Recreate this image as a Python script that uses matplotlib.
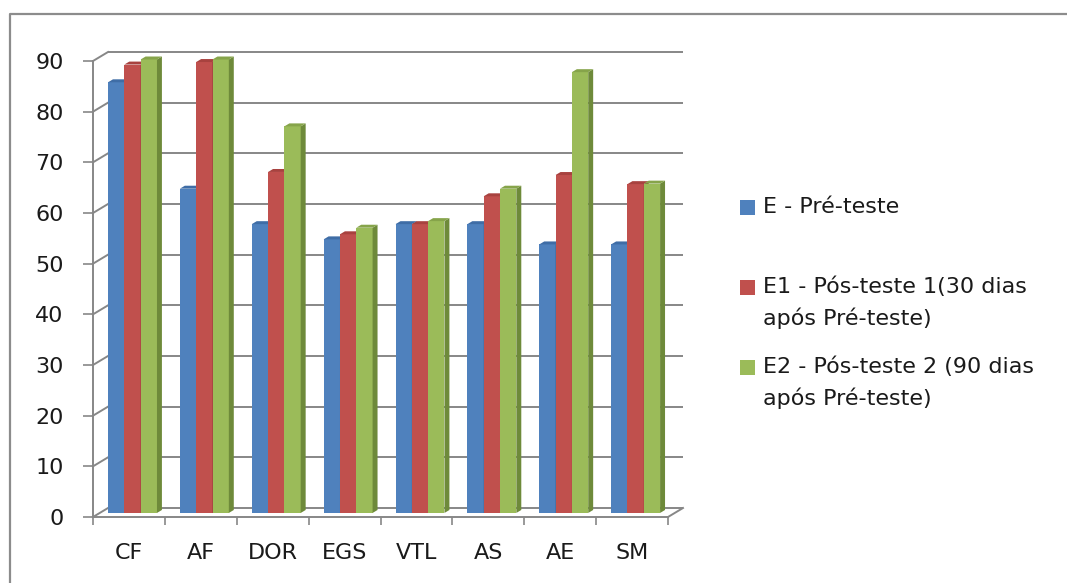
import matplotlib
matplotlib.use("Agg")
import matplotlib.pyplot as plt
from matplotlib.patches import Polygon, Rectangle
from matplotlib.lines import Line2D
import numpy as np

categories = ["CF", "AF", "DOR", "EGS", "VTL", "AS", "AE", "SM"]
e_pre = [85, 64, 57, 54, 57, 57, 53, 53]
e1_pos = [88.5, 89, 67.3, 55, 57, 62.5, 66.7, 64.9]
e2_pos = [89.5, 89.5, 76.3, 56.3, 57.6, 64, 87, 65]
series_names = ["E - Pré-teste",
                "E1 - Pós-teste 1(30 dias\napós Pré-teste)",
                "E2 - Pós-teste 2 (90 dias\napós Pré-teste)"]
yticks = list(range(0, 100, 10))

front_cols = ["#4F81BD", "#C0504D", "#9BBB59"]
side_cols = ["#3A6192", "#923B39", "#6E8A3A"]
top_cols = ["#3F6DA6", "#A8423F", "#86A44A"]

W, H = 1067, 583
FONT = "DejaVu Sans"
FS = 16
GRAY = "#878787"
TXT = "#1a1a1a"

fig = plt.figure(figsize=(W / 100, H / 100), dpi=100)
ax_l, ax_r, ax_b, ax_t = 93, 668, 517, 61
ax = fig.add_axes([ax_l / W, 1 - ax_b / H, (ax_r - ax_l) / W, (ax_b - ax_t) / H])
n = len(categories)
ax.set_xlim(0, n)
ax.set_ylim(0, 90)

# depth offset (pixels) converted to data units
px_x = (ax_r - ax_l) / n
px_y = (ax_b - ax_t) / 90
DXd = 15 / px_x
DYd = 9 / px_y

# spines / ticks
for s in ["top", "right"]:
    ax.spines[s].set_visible(False)
for s in ["left", "bottom"]:
    ax.spines[s].set_color(GRAY)
    ax.spines[s].set_linewidth(1.4)
ax.set_yticks(yticks)
ax.set_yticklabels([str(v) for v in yticks], fontsize=FS, family=FONT, color=TXT)
ax.tick_params(axis="y", length=7.2, width=1.2, color=GRAY, pad=14)
ax.set_xticks(np.arange(0, n + 1))
ax.set_xticklabels([])
ax.tick_params(axis="x", which="major", length=6, width=1.2, color=GRAY)
ax.set_xticks(np.arange(n) + 0.5, minor=True)
ax.set_xticklabels(categories, minor=True, fontsize=FS, family=FONT, color=TXT)
ax.tick_params(axis="x", which="minor", length=0, pad=19)
ax.patch.set_visible(False)

# back wall gridlines and side-wall diagonals
ax.hlines([v + DYd for v in yticks], DXd, n + DXd, color=GRAY, lw=1.4, clip_on=False, zorder=1)
for v in yticks:
    ax.plot([0, DXd], [v, v + DYd], color=GRAY, lw=1.4, clip_on=False, zorder=1)
ax.plot([n, n + DXd], [0, DYd], color=GRAY, lw=1.4, clip_on=False, zorder=1)

# bars
bw = 0.227
g0 = 0.115
d_front = 0.45
d_back = 0.78
dd = d_back - d_front
z = 3
all_series = [e_pre, e1_pos, e2_pos]
for j in range(n):
    for i, vals in enumerate(all_series):
        x0 = j + g0 + i * bw + d_front * DXd
        y0 = d_front * DYd
        h = vals[j]
        ax.bar(x0, h, width=bw, bottom=y0, align="edge", color=front_cols[i],
               linewidth=0, zorder=z, clip_on=False)
        x1 = x0 + bw
        yt = y0 + h
        side = Polygon([(x1, y0), (x1 + dd * DXd, y0 + dd * DYd),
                        (x1 + dd * DXd, yt + dd * DYd), (x1, yt)],
                       closed=True, facecolor=side_cols[i], edgecolor="none",
                       zorder=z, clip_on=False)
        ax.add_patch(side)
        top = Polygon([(x0, yt), (x1, yt), (x1 + dd * DXd, yt + dd * DYd),
                       (x0 + dd * DXd, yt + dd * DYd)],
                      closed=True, facecolor=top_cols[i], edgecolor="none",
                      zorder=z, clip_on=False)
        ax.add_patch(top)
        z += 0.01

# outer border (left and top edges; the frame continues past the image)
fig.add_artist(Line2D([10 / W, 10 / W, 1.5], [-0.5, 1 - 14 / H, 1 - 14 / H],
                      color="#8c8c8c", lw=1.6))

# legend (manual)
leg_y = [207, 287, 367]
for i, name in enumerate(series_names):
    yc = leg_y[i]
    fig.add_artist(Rectangle((740 / W, 1 - (yc + 7.5) / H), 15 / W, 15 / H,
                             facecolor=front_cols[i], edgecolor="none"))
    fig.text(763 / W, 1 - (yc - 10) / H, name, fontsize=FS, family=FONT,
             color=TXT, ha="left", va="top", linespacing=1.57)

fig.savefig("out.png", dpi=100)
